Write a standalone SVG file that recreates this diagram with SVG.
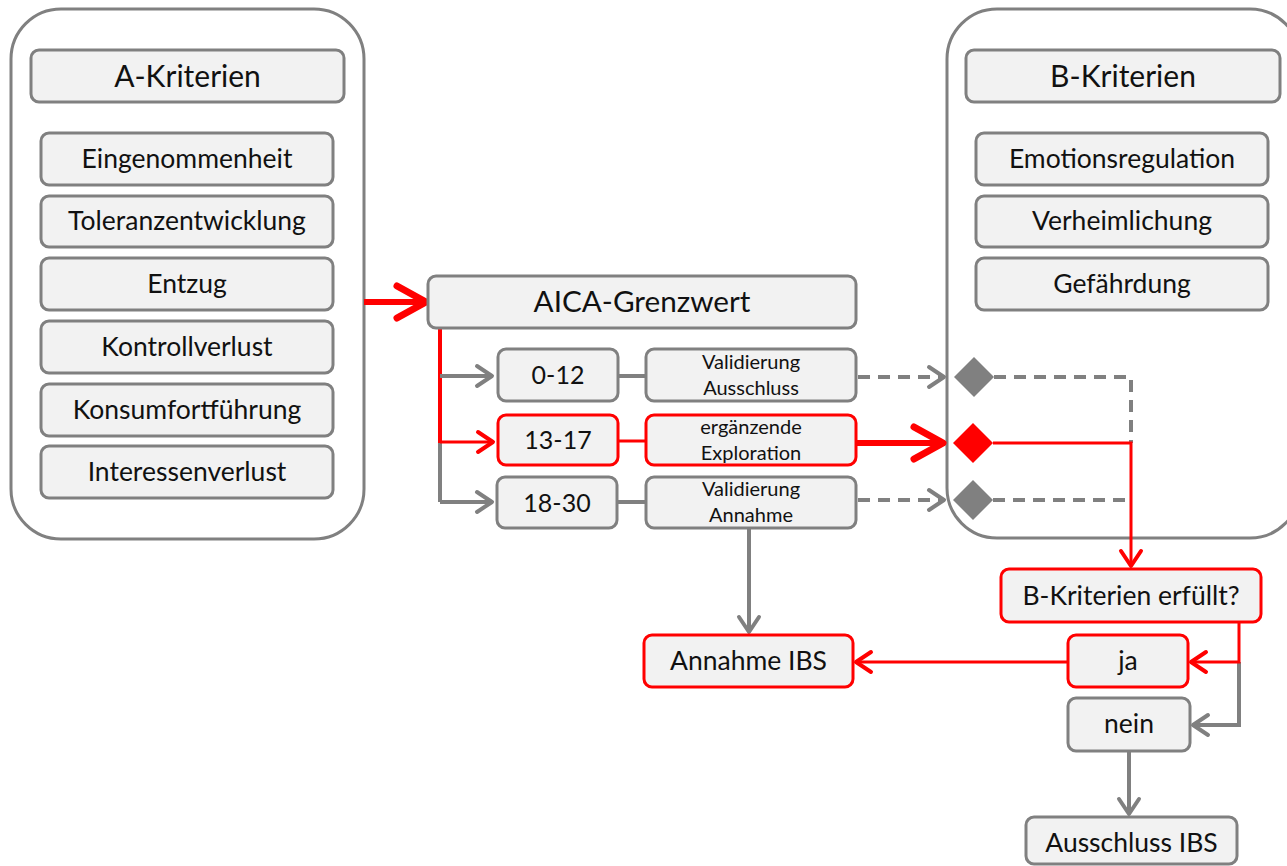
<svg xmlns="http://www.w3.org/2000/svg" width="1287" height="866" viewBox="0 0 1287 866">
<style>
.cont{fill:#ffffff;stroke:#808080;stroke-width:3}
.box{fill:#f2f2f2;stroke:#808080;stroke-width:3}
.rbox{fill:#f2f2f2;stroke:#ff0000;stroke-width:3}
.t{font-family:Lato,"Liberation Sans",sans-serif;fill:#111;text-anchor:middle}
.hd{font-size:30px}
.it{font-size:26.5px}
.num{font-size:25px}
.sm{font-size:20px}
.g{fill:none;stroke:#808080;stroke-width:4}
.gd{fill:none;stroke:#808080;stroke-width:4;stroke-dasharray:12 8}
.r{fill:none;stroke:#ff0000;stroke-width:3}
.rb{fill:none;stroke:#ff0000;stroke-width:6}
</style>
<defs>
<marker id="ag" markerUnits="userSpaceOnUse" viewBox="-20 -14 24 28" refX="0" refY="0" markerWidth="24" markerHeight="28" orient="auto"><path d="M-15,-10 L0,0 L-15,10" fill="none" stroke="#808080" stroke-width="4" stroke-linecap="round" stroke-linejoin="round"/></marker>
<marker id="ar" markerUnits="userSpaceOnUse" viewBox="-20 -14 24 28" refX="0" refY="0" markerWidth="24" markerHeight="28" orient="auto"><path d="M-15,-10 L0,0 L-15,10" fill="none" stroke="#ff0000" stroke-width="4" stroke-linecap="round" stroke-linejoin="round"/></marker>
<marker id="arb" markerUnits="userSpaceOnUse" viewBox="-36 -22 42 44" refX="0" refY="0" markerWidth="42" markerHeight="44" orient="auto"><path d="M-29,-16 L0,0 L-29,16" fill="none" stroke="#ff0000" stroke-width="7" stroke-linecap="round" stroke-linejoin="round"/></marker>
</defs>

<g id="containerA"><rect class="cont" x="11" y="9" width="353" height="530" rx="50"/></g>
<g id="containerB"><rect class="cont" x="947" y="9" width="353" height="529" rx="50"/></g>

<g id="connectors">
<line class="rb" x1="364" y1="302" x2="426" y2="302" marker-end="url(#arb)"/>
<line class="g" x1="440" y1="440" x2="440" y2="502"/>
<line class="r" x1="440" y1="328" x2="440" y2="443" style="stroke-width:4"/>
<polyline class="g" points="440,376 492,376" marker-end="url(#ag)"/>
<polyline class="r" points="440,442 493,442" marker-end="url(#ar)"/>
<polyline class="g" points="440,502 492,502" marker-end="url(#ag)"/>
<line class="g" x1="618" y1="376" x2="646" y2="376"/>
<line class="r" x1="618" y1="441" x2="646" y2="441"/>
<line class="g" x1="617" y1="502" x2="646" y2="502"/>
<line class="gd" x1="858" y1="377" x2="944" y2="377" marker-end="url(#ag)"/>
<line class="rb" x1="856" y1="443" x2="943" y2="443" marker-end="url(#arb)"/>
<line class="gd" x1="858" y1="500" x2="944" y2="500" marker-end="url(#ag)"/>
<polyline class="gd" points="994,377 1131,377 1131,443"/>
<line class="gd" x1="993" y1="500" x2="1131" y2="500"/>
<polyline class="r" points="993,443 1131,443 1131,566" marker-end="url(#ar)"/>
<polyline class="g" points="1239,662 1239,725 1193,725" marker-end="url(#ag)"/>
<polyline class="r" points="1239,622 1239,662 1191,662" marker-end="url(#ar)"/>
<line class="g" x1="1129" y1="751" x2="1129" y2="814" marker-end="url(#ag)"/>
<line class="r" x1="1068" y1="662" x2="856" y2="662" marker-end="url(#ar)"/>
<line class="g" x1="749" y1="528" x2="749" y2="632" marker-end="url(#ag)"/>
</g>

<g id="diamond1"><polygon points="974,357 994,377 974,397 954,377" fill="#808080"/></g>
<g id="diamond2"><polygon points="973,423 993,443 973,463 953,443" fill="#ff0000"/></g>
<g id="diamond3"><polygon points="973,480 993,500 973,520 953,500" fill="#808080"/></g>

<g id="a-header"><rect class="box" x="31" y="50" width="313" height="52" rx="8"/><text class="t hd" x="187.5" y="87">A-Kriterien</text></g>
<g id="a1"><rect class="box" x="41" y="133" width="292" height="52" rx="8"/><text class="t it" x="187" y="168">Eingenommenheit</text></g>
<g id="a2"><rect class="box" x="41" y="196" width="292" height="51" rx="8"/><text class="t it" x="187" y="230">Toleranzentwicklung</text></g>
<g id="a3"><rect class="box" x="41" y="258" width="292" height="52" rx="8"/><text class="t it" x="187" y="293">Entzug</text></g>
<g id="a4"><rect class="box" x="41" y="321" width="292" height="52" rx="8"/><text class="t it" x="187" y="356">Kontrollverlust</text></g>
<g id="a5"><rect class="box" x="41" y="384" width="292" height="52" rx="8"/><text class="t it" x="187" y="419">Konsumfortführung</text></g>
<g id="a6"><rect class="box" x="41" y="446" width="292" height="52" rx="8"/><text class="t it" x="187" y="481">Interessenverlust</text></g>

<g id="b-header"><rect class="box" x="966" y="50" width="314" height="52" rx="8"/><text class="t hd" x="1123" y="87">B-Kriterien</text></g>
<g id="b1"><rect class="box" x="976" y="133" width="292" height="52" rx="8"/><text class="t it" x="1122" y="168">Emotionsregulation</text></g>
<g id="b2"><rect class="box" x="976" y="196" width="292" height="51" rx="8"/><text class="t it" x="1122" y="230">Verheimlichung</text></g>
<g id="b3"><rect class="box" x="976" y="258" width="292" height="52" rx="8"/><text class="t it" x="1122" y="293">Gefährdung</text></g>

<g id="aica"><rect class="box" x="428" y="276" width="428" height="52" rx="8"/><text class="t" style="font-size:29.7px" x="642" y="312">AICA-Grenzwert</text></g>

<g id="r0-12"><rect class="box" x="498" y="349" width="120" height="52" rx="8"/><text class="t num" x="558" y="384">0-12</text></g>
<g id="r13-17"><rect class="rbox" x="498" y="415" width="120" height="50" rx="8"/><text class="t num" x="558" y="449">13-17</text></g>
<g id="r18-30"><rect class="box" x="497" y="477" width="120" height="51" rx="8"/><text class="t num" x="557" y="512">18-30</text></g>

<g id="valAus"><rect class="box" x="646" y="349" width="210" height="52" rx="8"/><text class="t sm" x="751" y="369">Validierung</text><text class="t sm" x="751" y="395">Ausschluss</text></g>
<g id="ergExp"><rect class="rbox" x="646" y="415" width="210" height="50" rx="8"/><text class="t sm" x="751" y="434">ergänzende</text><text class="t sm" x="751" y="460">Exploration</text></g>
<g id="valAnn"><rect class="box" x="646" y="477" width="210" height="51" rx="8"/><text class="t sm" x="751" y="496">Validierung</text><text class="t sm" x="751" y="522">Annahme</text></g>

<g id="bErfuellt"><rect class="rbox" x="1001" y="569" width="260" height="53" rx="8"/><text class="t it" x="1131" y="605">B-Kriterien erfüllt?</text></g>
<g id="ja"><rect class="rbox" x="1068" y="635" width="120" height="52" rx="8"/><text class="t it" x="1128" y="670">ja</text></g>
<g id="nein"><rect class="box" x="1068" y="698" width="122" height="53" rx="8"/><text class="t it" x="1129" y="733">nein</text></g>
<g id="annahme"><rect class="rbox" x="644" y="635" width="209" height="52" rx="8"/><text class="t it" x="748.5" y="670">Annahme IBS</text></g>
<g id="ausschluss"><rect class="box" x="1026" y="817" width="211" height="47" rx="8"/><text class="t it" x="1131.5" y="852">Ausschluss IBS</text></g>
</svg>
